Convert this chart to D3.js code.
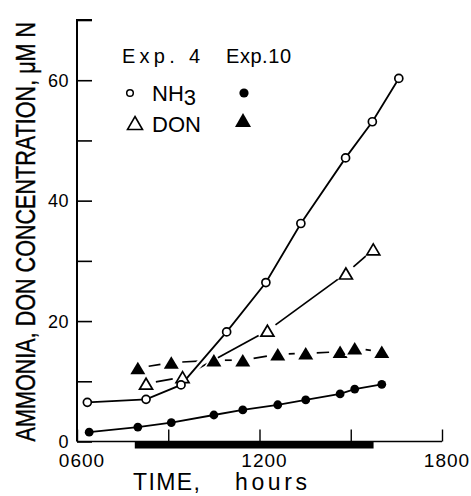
<!DOCTYPE html>
<html><head><meta charset="utf-8">
<script src="https://cdn.jsdelivr.net/npm/d3@7"></script>
<style>
html,body{margin:0;padding:0;background:#fff;}
svg{display:block;}
text{font-family:"Liberation Sans",Arial,sans-serif;fill:#000;}
</style></head>
<body>
<script>
// ---- data (time in decimal hours, concentration in µM N) ----
const exp4NH3Time = [6.34, 8.27, 9.42, 10.92, 12.21, 13.36, 14.83, 15.71, 16.58];
const exp4NH3Val  = [6.5, 7.0, 9.4, 18.2, 26.4, 36.2, 47.1, 53.1, 60.3];
const exp4DONTime = [8.27, 9.47, 12.26, 14.84, 15.74];
const exp4DONVal  = [9.6, 10.7, 18.4, 27.9, 31.9];
const exp10NH3Time = [6.40, 8.0, 9.1, 10.5, 11.45, 12.6, 13.52, 14.65, 15.13, 16.02];
const exp10NH3Val  = [1.55, 2.4, 3.15, 4.4, 5.25, 6.1, 6.9, 7.9, 8.7, 9.5];
const exp10DONTime = [8.0, 9.1, 10.5, 11.45, 12.6, 13.52, 14.65, 15.13, 16.02];
const exp10DONVal  = [12.2, 13.1, 13.5, 13.5, 14.5, 14.65, 14.9, 15.5, 14.9];
const lightPeriod = [7.9, 15.75];
const xTicks = [6, 9, 12, 15, 18];
const xTickLabels = ["0600", "1200", "1800"];
const xLabelTicks = [6, 12, 18];
const yTicks = [0, 10, 20, 30, 40, 50, 60, 70];
const yLabelTicks = [0, 20, 40, 60];

const W = 471, H = 496;
const svg = d3.select("body").append("svg").attr("width", W).attr("height", H);
const x = d3.scaleLinear().domain([6, 18]).range([77, 442]);
const y = d3.scaleLinear().domain([0, 70]).range([441.5, 20]);

const zip = (t, v) => t.map((d, i) => ({t: d, v: v[i]}));
const s4N = zip(exp4NH3Time, exp4NH3Val), s4D = zip(exp4DONTime, exp4DONVal);
const s10N = zip(exp10NH3Time, exp10NH3Val), s10D = zip(exp10DONTime, exp10DONVal);

// light bar
svg.append("rect").attr("x", x(lightPeriod[0])).attr("y", y(0))
  .attr("width", x(lightPeriod[1]) - x(lightPeriod[0])).attr("height", 7).attr("fill", "#000");

// axes
const yAxis = d3.axisRight(y).tickValues(yTicks).tickSize(15).tickFormat("");
const gy = svg.append("g").attr("transform", `translate(${x(6)},0)`).call(yAxis);
gy.select(".domain").attr("d", `M15,${y(70)}H0V${y(0)}`).attr("stroke-width", 2);
gy.selectAll(".tick line").attr("stroke-width", 1.6);
const xAxis = d3.axisTop(x).tickValues(xTicks).tickSize(12).tickFormat("");
const gx = svg.append("g").attr("transform", `translate(0,${y(0)})`).call(xAxis);
gx.select(".domain").attr("d", `M${x(6)},0H${x(18)}`).attr("stroke-width", 1.6);
gx.selectAll(".tick line").attr("stroke-width", 1.4);

// tick labels
svg.selectAll(".xl").data(xLabelTicks).enter().append("text")
  .attr("x", d => x(d) + 5).attr("y", 467).attr("text-anchor", "middle")
  .attr("font-size", 19).attr("letter-spacing", 1)
  .text((d, i) => xTickLabels[i]);
svg.selectAll(".yl").data(yLabelTicks).enter().append("text")
  .attr("x", 69).attr("y", d => y(d) + 6.5).attr("text-anchor", "end")
  .attr("font-size", 18).attr("letter-spacing", 0.5).text(d => d);

// axis titles (y title compressed horizontally to fit the axis height)
const yt = svg.append("text").attr("text-anchor", "middle").attr("font-size", 27)
  .attr("stroke", "#000").attr("stroke-width", 0.4)
  .text("AMMONIA, DON CONCENTRATION, \u03BCM N");
const natural = yt.node().getComputedTextLength();
const sx = Math.min(1, (y(0) - y(69.7)) / natural);
yt.attr("transform", `translate(35,${(y(0) + y(69.7)) / 2}) rotate(-90) scale(${sx},1)`);
svg.append("text").attr("x", 133).attr("y", 490).attr("font-size", 23)
  .attr("textLength", 67).attr("lengthAdjust", "spacing").text("TIME,");
svg.append("text").attr("x", 235).attr("y", 490).attr("font-size", 23)
  .attr("textLength", 72).attr("lengthAdjust", "spacing").text("hours");

// helpers
function trimmedSegments(data, gap) {
  const segs = [];
  for (let i = 0; i < data.length - 1; i++) {
    const x0 = x(data[i].t), y0 = y(data[i].v), x1 = x(data[i+1].t), y1 = y(data[i+1].v);
    const L = Math.hypot(x1 - x0, y1 - y0);
    if (L <= 2 * gap) continue;
    const ux = (x1 - x0) / L, uy = (y1 - y0) / L;
    segs.push([[x0 + ux * gap, y0 + uy * gap], [x1 - ux * gap, y1 - uy * gap]]);
  }
  return segs;
}
const line = d3.line().x(d => x(d.t)).y(d => y(d.v));
const triPath = (w, h) => `M0,${-h/2}L${w/2},${h/2}L${-w/2},${h/2}Z`;

// Exp 4 DON (broken line)
svg.append("g").selectAll("line").data(trimmedSegments(s4D, 10)).enter().append("line")
  .attr("x1", d => d[0][0]).attr("y1", d => d[0][1]).attr("x2", d => d[1][0]).attr("y2", d => d[1][1])
  .attr("stroke", "#000").attr("stroke-width", 1.7);

// Exp 10 DON (broken line) with halo
const seg10 = trimmedSegments(s10D, 11);
["#fff", "#000"].forEach((c, k) => {
  svg.append("g").selectAll("line").data(seg10).enter().append("line")
    .attr("x1", d => d[0][0]).attr("y1", d => d[0][1]).attr("x2", d => d[1][0]).attr("y2", d => d[1][1])
    .attr("stroke", c).attr("stroke-width", k ? 1.7 : 6);
});

// Exp 10 NH3 line
svg.append("path").datum(s10N).attr("d", line).attr("fill", "none")
  .attr("stroke", "#000").attr("stroke-width", 1.8);

// Exp 4 NH3 line with halo
svg.append("path").datum(s4N).attr("d", line).attr("fill", "none").attr("stroke", "#fff").attr("stroke-width", 7);
svg.append("path").datum(s4N).attr("d", line).attr("fill", "none").attr("stroke", "#000").attr("stroke-width", 1.8);

// markers
svg.append("g").selectAll("path").data(s10D).enter().append("path")
  .attr("transform", d => `translate(${x(d.t)},${y(d.v)})`).attr("d", triPath(15, 12.5))
  .attr("fill", "#000").attr("stroke", "#fff").attr("stroke-width", 3).attr("paint-order", "stroke");
svg.append("g").selectAll("path").data(s4D).enter().append("path")
  .attr("transform", d => `translate(${x(d.t)},${y(d.v)})`).attr("d", triPath(13, 11))
  .attr("fill", "#fff").attr("stroke", "#000").attr("stroke-width", 1.7);
svg.append("g").selectAll("circle").data(s10N).enter().append("circle")
  .attr("cx", d => x(d.t)).attr("cy", d => y(d.v)).attr("r", 4.4).attr("fill", "#000");
svg.append("g").selectAll("circle").data(s4N).enter().append("circle")
  .attr("cx", d => x(d.t)).attr("cy", d => y(d.v)).attr("r", 4).attr("fill", "#fff")
  .attr("stroke", "#000").attr("stroke-width", 1.7);

// legend
const lg = svg.append("g");
lg.append("text").attr("x", 122).attr("y", 63).attr("font-size", 20)
  .attr("textLength", 78).attr("lengthAdjust", "spacing").text("Exp. 4");
lg.append("text").attr("x", 226).attr("y", 63).attr("font-size", 20)
  .attr("textLength", 65).attr("lengthAdjust", "spacing").text("Exp.10");
lg.append("circle").attr("cx", 130).attr("cy", 93).attr("r", 3.3).attr("fill", "#fff")
  .attr("stroke", "#000").attr("stroke-width", 1.5);
const nh = lg.append("text").attr("x", 152).attr("y", 101).attr("font-size", 22);
nh.append("tspan").text("NH");
nh.append("tspan").attr("dy", 4).text("3");
lg.append("circle").attr("cx", 244).attr("cy", 93).attr("r", 4.6).attr("fill", "#000");
lg.append("path").attr("transform", "translate(135,123)").attr("d", triPath(15, 13))
  .attr("fill", "#fff").attr("stroke", "#000").attr("stroke-width", 1.6);
lg.append("text").attr("x", 152).attr("y", 132).attr("font-size", 22).text("DON");
lg.append("path").attr("transform", "translate(243,120)").attr("d", triPath(16, 14)).attr("fill", "#000");
</script>
</body></html>
